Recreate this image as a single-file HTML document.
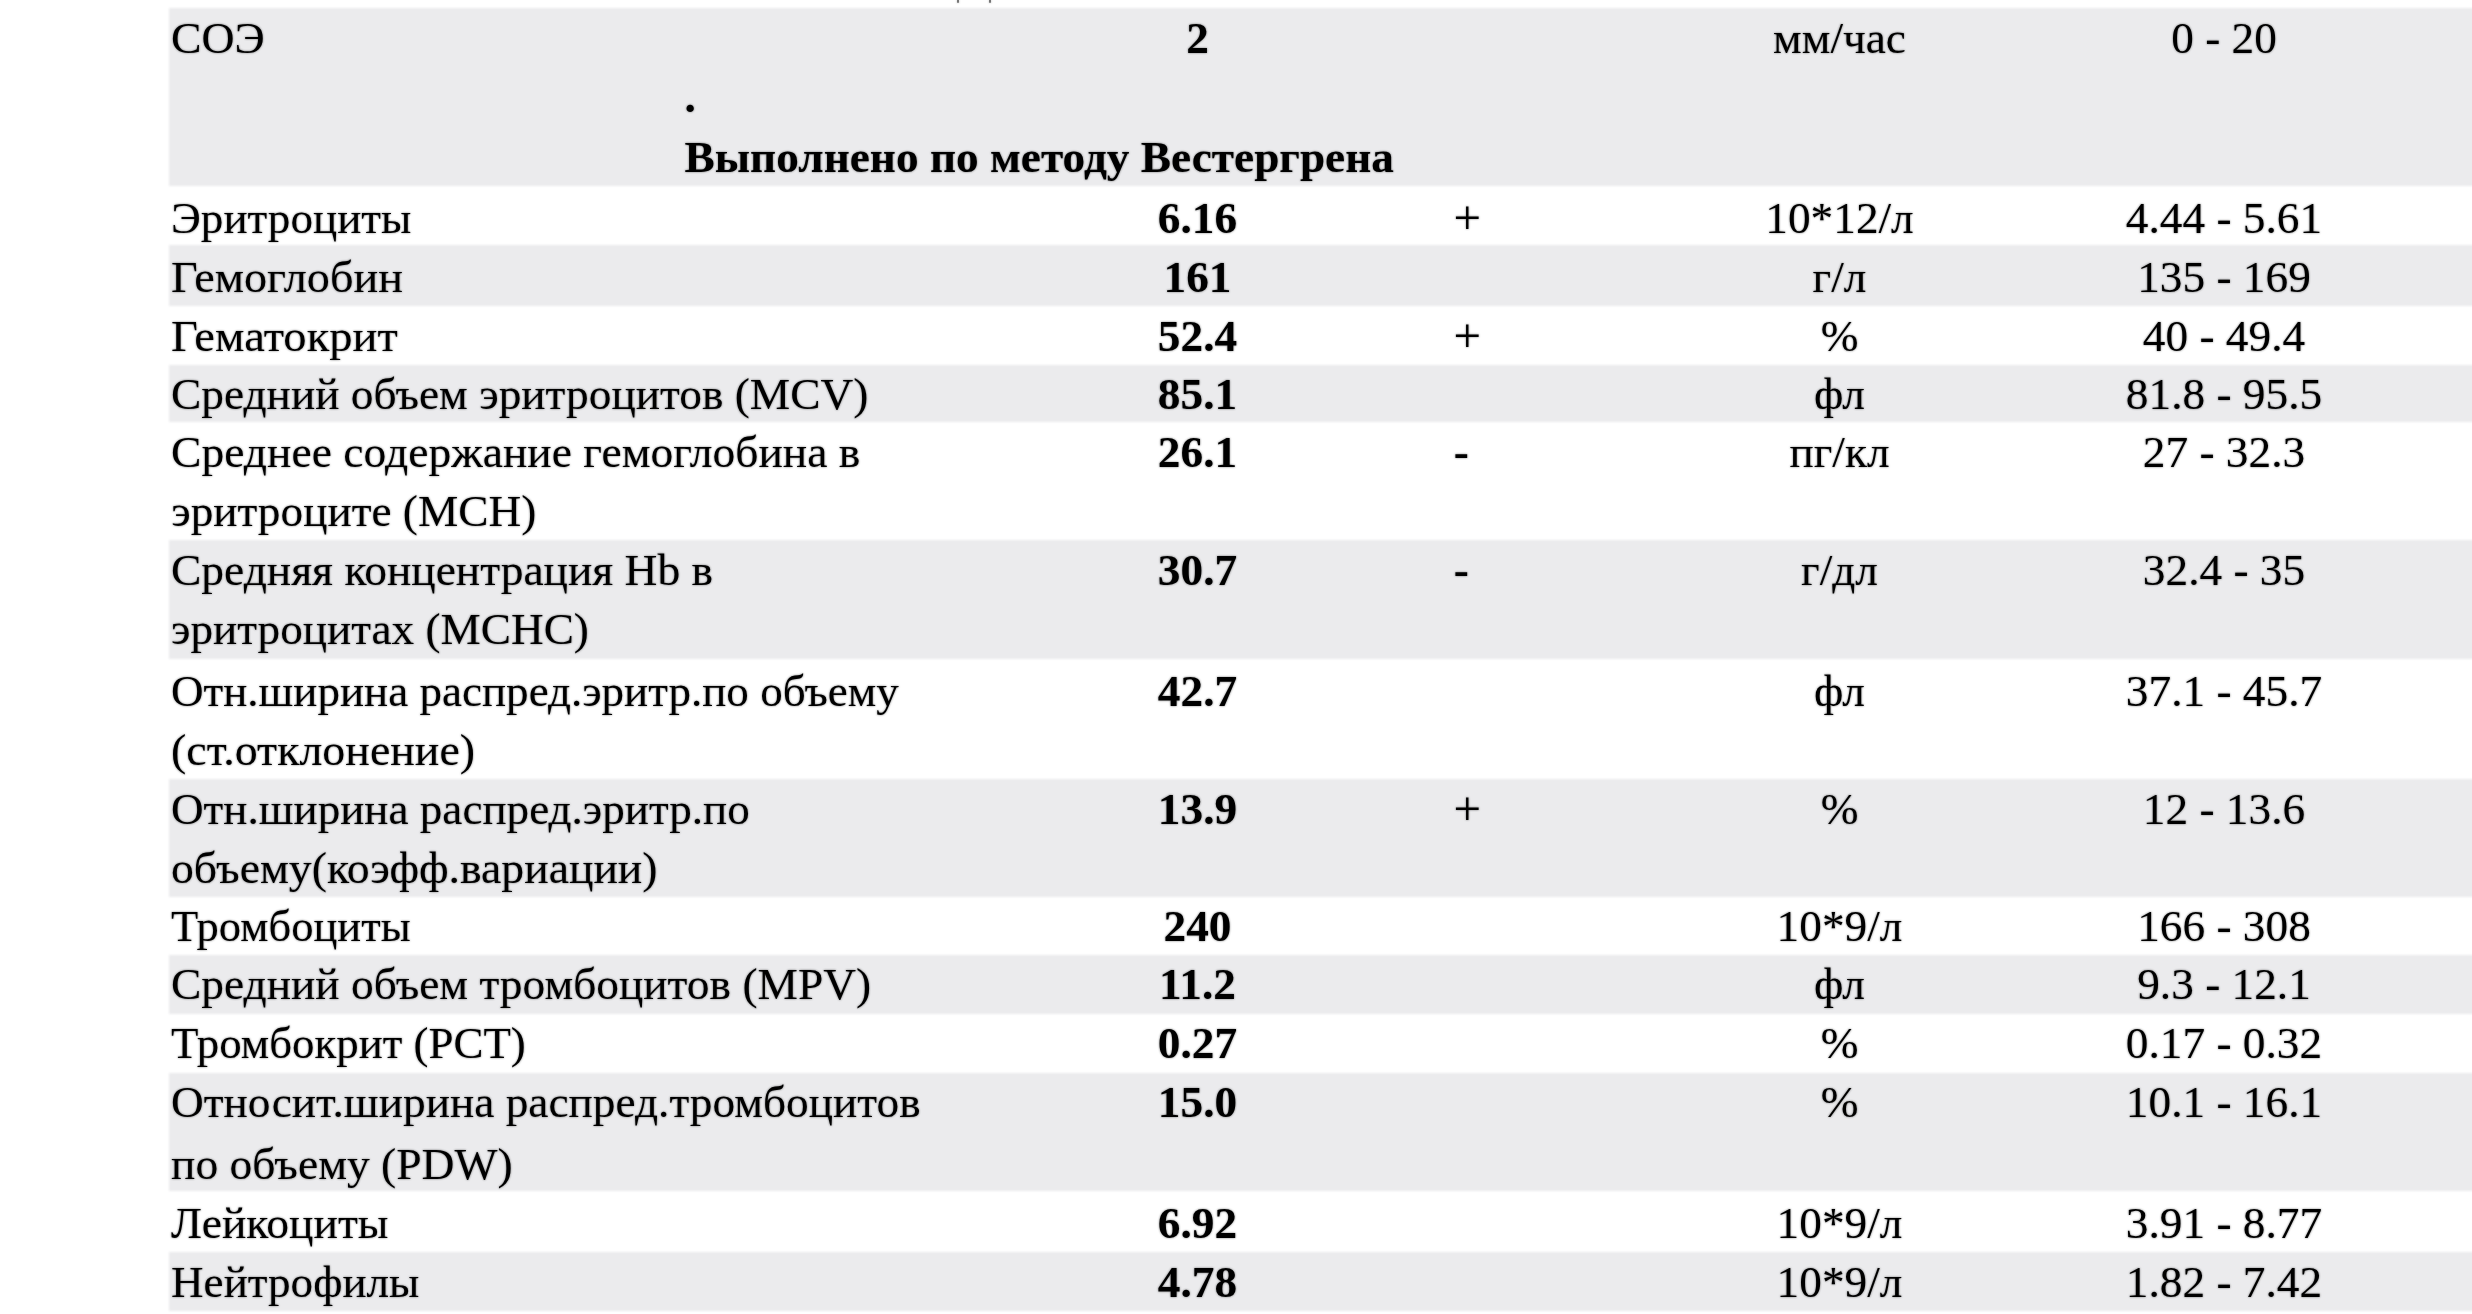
<!DOCTYPE html><html><head><meta charset="utf-8"><style>
html,body{margin:0;padding:0;background:#fff;}
body{width:2472px;height:1314px;overflow:hidden;position:relative;font-family:"Liberation Serif",serif;font-size:45.3px;color:#000;}
.g{position:absolute;left:168.5px;right:-20px;background:#ebebed;}
.t{position:absolute;white-space:nowrap;line-height:60px;height:60px;}
.c{width:400px;text-align:center;}
.b{font-weight:bold;}
.L{position:absolute;left:0;top:0;width:2472px;height:1314px;}
#w1{will-change:transform;}
#wb{filter:blur(0.8px);}
#w2{filter:blur(0.8px);opacity:0.5;}
</style></head><body>
<div class="L" id="wb">
<div class="g" style="top:8px;height:178px"></div>
<div class="g" style="top:245px;height:61px"></div>
<div class="g" style="top:365px;height:57px"></div>
<div class="g" style="top:540px;height:119px"></div>
<div class="g" style="top:779px;height:118px"></div>
<div class="g" style="top:955px;height:58.5px"></div>
<div class="g" style="top:1073px;height:118px"></div>
<div class="g" style="top:1252px;height:59px"></div>
</div>
<div class="L" id="w1">
<div class="t " style="left:171.2px;top:8.3px;transform:scaleX(1.0099);transform-origin:0 0">СОЭ</div>
<div class="t c b" style="left:997.5px;top:8.3px">2</div>
<div class="t c " style="left:1639.5px;top:8.3px">мм/час</div>
<div class="t c " style="left:2024.0px;top:8.3px">0 - 20</div>
<div class="t " style="left:171.2px;top:187.8px;transform:scaleX(0.9967);transform-origin:0 0">Эритроциты</div>
<div class="t c b" style="left:997.5px;top:187.8px">6.16</div>
<div class="t " style="left:1453.5px;top:188.4px"><span style="font-size:48.8px">+</span></div>
<div class="t c " style="left:1639.5px;top:187.8px">10*12/л</div>
<div class="t c " style="left:2024.0px;top:187.8px">4.44 - 5.61</div>
<div class="t " style="left:171.2px;top:246.7px;transform:scaleX(1.0207);transform-origin:0 0">Гемоглобин</div>
<div class="t c b" style="left:997.5px;top:246.7px">161</div>
<div class="t c " style="left:1639.5px;top:246.7px">г/л</div>
<div class="t c " style="left:2024.0px;top:246.7px">135 - 169</div>
<div class="t " style="left:171.2px;top:305.8px;transform:scaleX(1.0278);transform-origin:0 0">Гематокрит</div>
<div class="t c b" style="left:997.5px;top:305.8px">52.4</div>
<div class="t " style="left:1453.5px;top:306.4px"><span style="font-size:48.8px">+</span></div>
<div class="t c " style="left:1639.5px;top:305.8px">%</div>
<div class="t c " style="left:2024.0px;top:305.8px">40 - 49.4</div>
<div class="t " style="left:171.2px;top:363.8px;transform:scaleX(1.0020);transform-origin:0 0">Средний объем эритроцитов (MCV)</div>
<div class="t c b" style="left:997.5px;top:363.8px">85.1</div>
<div class="t c " style="left:1639.5px;top:363.8px">фл</div>
<div class="t c " style="left:2024.0px;top:363.8px">81.8 - 95.5</div>
<div class="t " style="left:171.2px;top:422.4px;transform:scaleX(1.0063);transform-origin:0 0">Среднее содержание гемоглобина в</div>
<div class="t " style="left:171.2px;top:480.9px">эритроците (MCH)</div>
<div class="t c b" style="left:997.5px;top:422.4px">26.1</div>
<div class="t b" style="left:1453.8px;top:422.4px">-</div>
<div class="t c " style="left:1639.5px;top:422.4px">пг/кл</div>
<div class="t c " style="left:2024.0px;top:422.4px">27 - 32.3</div>
<div class="t " style="left:171.2px;top:540.3px;transform:scaleX(1.0045);transform-origin:0 0">Средняя концентрация Hb в</div>
<div class="t " style="left:171.2px;top:598.6px;transform:scaleX(0.9986);transform-origin:0 0">эритроцитах (MCHC)</div>
<div class="t c b" style="left:997.5px;top:540.3px">30.7</div>
<div class="t b" style="left:1453.8px;top:540.3px">-</div>
<div class="t c " style="left:1639.5px;top:540.3px">г/дл</div>
<div class="t c " style="left:2024.0px;top:540.3px">32.4 - 35</div>
<div class="t " style="left:171.2px;top:661.2px;transform:scaleX(0.9948);transform-origin:0 0">Отн.ширина распред.эритр.по объему</div>
<div class="t " style="left:171.2px;top:720.1px;transform:scaleX(1.0134);transform-origin:0 0">(ст.отклонение)</div>
<div class="t c b" style="left:997.5px;top:661.2px">42.7</div>
<div class="t c " style="left:1639.5px;top:661.2px">фл</div>
<div class="t c " style="left:2024.0px;top:661.2px">37.1 - 45.7</div>
<div class="t " style="left:171.2px;top:778.8px;transform:scaleX(0.9962);transform-origin:0 0">Отн.ширина распред.эритр.по</div>
<div class="t " style="left:171.2px;top:837.6px;transform:scaleX(1.0094);transform-origin:0 0">объему(коэфф.вариации)</div>
<div class="t c b" style="left:997.5px;top:778.8px">13.9</div>
<div class="t " style="left:1453.5px;top:779.4px"><span style="font-size:48.8px">+</span></div>
<div class="t c " style="left:1639.5px;top:778.8px">%</div>
<div class="t c " style="left:2024.0px;top:778.8px">12 - 13.6</div>
<div class="t " style="left:171.2px;top:896.3px;transform:scaleX(0.9843);transform-origin:0 0">Тромбоциты</div>
<div class="t c b" style="left:997.5px;top:896.3px">240</div>
<div class="t c " style="left:1639.5px;top:896.3px">10*9/л</div>
<div class="t c " style="left:2024.0px;top:896.3px">166 - 308</div>
<div class="t " style="left:171.2px;top:954.2px;transform:scaleX(1.0029);transform-origin:0 0">Средний объем тромбоцитов (MPV)</div>
<div class="t c b" style="left:997.5px;top:954.2px">11.2</div>
<div class="t c " style="left:1639.5px;top:954.2px">фл</div>
<div class="t c " style="left:2024.0px;top:954.2px">9.3 - 12.1</div>
<div class="t " style="left:171.2px;top:1013.3px;transform:scaleX(0.9910);transform-origin:0 0">Тромбокрит (PCT)</div>
<div class="t c b" style="left:997.5px;top:1013.3px">0.27</div>
<div class="t c " style="left:1639.5px;top:1013.3px">%</div>
<div class="t c " style="left:2024.0px;top:1013.3px">0.17 - 0.32</div>
<div class="t " style="left:171.2px;top:1071.9px;transform:scaleX(1.0011);transform-origin:0 0">Относит.ширина распред.тромбоцитов</div>
<div class="t " style="left:171.2px;top:1133.7px;transform:scaleX(1.0056);transform-origin:0 0">по объему (PDW)</div>
<div class="t c b" style="left:997.5px;top:1071.9px">15.0</div>
<div class="t c " style="left:1639.5px;top:1071.9px">%</div>
<div class="t c " style="left:2024.0px;top:1071.9px">10.1 - 16.1</div>
<div class="t " style="left:171.2px;top:1192.6px;transform:scaleX(1.0079);transform-origin:0 0">Лейкоциты</div>
<div class="t c b" style="left:997.5px;top:1192.6px">6.92</div>
<div class="t c " style="left:1639.5px;top:1192.6px">10*9/л</div>
<div class="t c " style="left:2024.0px;top:1192.6px">3.91 - 8.77</div>
<div class="t " style="left:171.2px;top:1251.5px;transform:scaleX(0.9964);transform-origin:0 0">Нейтрофилы</div>
<div class="t c b" style="left:997.5px;top:1251.5px">4.78</div>
<div class="t c " style="left:1639.5px;top:1251.5px">10*9/л</div>
<div class="t c " style="left:2024.0px;top:1251.5px">1.82 - 7.42</div>
<div class="t b" style="left:684.5px;top:67.3px">.</div>
<div class="t b" style="left:684.5px;top:126.5px">Выполнено по методу Вестергрена</div>
<div style="position:absolute;left:957px;top:0;width:2.4px;height:2.6px;background:#777;border-radius:0 0 50% 50%"></div>
<div style="position:absolute;left:988.8px;top:0;width:2.4px;height:2.6px;background:#777;border-radius:0 0 50% 50%"></div>
</div>
<div class="L" id="w2">
<div class="t " style="left:171.2px;top:8.3px;transform:scaleX(1.0099);transform-origin:0 0">СОЭ</div>
<div class="t c b" style="left:997.5px;top:8.3px">2</div>
<div class="t c " style="left:1639.5px;top:8.3px">мм/час</div>
<div class="t c " style="left:2024.0px;top:8.3px">0 - 20</div>
<div class="t " style="left:171.2px;top:187.8px;transform:scaleX(0.9967);transform-origin:0 0">Эритроциты</div>
<div class="t c b" style="left:997.5px;top:187.8px">6.16</div>
<div class="t " style="left:1453.5px;top:188.4px"><span style="font-size:48.8px">+</span></div>
<div class="t c " style="left:1639.5px;top:187.8px">10*12/л</div>
<div class="t c " style="left:2024.0px;top:187.8px">4.44 - 5.61</div>
<div class="t " style="left:171.2px;top:246.7px;transform:scaleX(1.0207);transform-origin:0 0">Гемоглобин</div>
<div class="t c b" style="left:997.5px;top:246.7px">161</div>
<div class="t c " style="left:1639.5px;top:246.7px">г/л</div>
<div class="t c " style="left:2024.0px;top:246.7px">135 - 169</div>
<div class="t " style="left:171.2px;top:305.8px;transform:scaleX(1.0278);transform-origin:0 0">Гематокрит</div>
<div class="t c b" style="left:997.5px;top:305.8px">52.4</div>
<div class="t " style="left:1453.5px;top:306.4px"><span style="font-size:48.8px">+</span></div>
<div class="t c " style="left:1639.5px;top:305.8px">%</div>
<div class="t c " style="left:2024.0px;top:305.8px">40 - 49.4</div>
<div class="t " style="left:171.2px;top:363.8px;transform:scaleX(1.0020);transform-origin:0 0">Средний объем эритроцитов (MCV)</div>
<div class="t c b" style="left:997.5px;top:363.8px">85.1</div>
<div class="t c " style="left:1639.5px;top:363.8px">фл</div>
<div class="t c " style="left:2024.0px;top:363.8px">81.8 - 95.5</div>
<div class="t " style="left:171.2px;top:422.4px;transform:scaleX(1.0063);transform-origin:0 0">Среднее содержание гемоглобина в</div>
<div class="t " style="left:171.2px;top:480.9px">эритроците (MCH)</div>
<div class="t c b" style="left:997.5px;top:422.4px">26.1</div>
<div class="t b" style="left:1453.8px;top:422.4px">-</div>
<div class="t c " style="left:1639.5px;top:422.4px">пг/кл</div>
<div class="t c " style="left:2024.0px;top:422.4px">27 - 32.3</div>
<div class="t " style="left:171.2px;top:540.3px;transform:scaleX(1.0045);transform-origin:0 0">Средняя концентрация Hb в</div>
<div class="t " style="left:171.2px;top:598.6px;transform:scaleX(0.9986);transform-origin:0 0">эритроцитах (MCHC)</div>
<div class="t c b" style="left:997.5px;top:540.3px">30.7</div>
<div class="t b" style="left:1453.8px;top:540.3px">-</div>
<div class="t c " style="left:1639.5px;top:540.3px">г/дл</div>
<div class="t c " style="left:2024.0px;top:540.3px">32.4 - 35</div>
<div class="t " style="left:171.2px;top:661.2px;transform:scaleX(0.9948);transform-origin:0 0">Отн.ширина распред.эритр.по объему</div>
<div class="t " style="left:171.2px;top:720.1px;transform:scaleX(1.0134);transform-origin:0 0">(ст.отклонение)</div>
<div class="t c b" style="left:997.5px;top:661.2px">42.7</div>
<div class="t c " style="left:1639.5px;top:661.2px">фл</div>
<div class="t c " style="left:2024.0px;top:661.2px">37.1 - 45.7</div>
<div class="t " style="left:171.2px;top:778.8px;transform:scaleX(0.9962);transform-origin:0 0">Отн.ширина распред.эритр.по</div>
<div class="t " style="left:171.2px;top:837.6px;transform:scaleX(1.0094);transform-origin:0 0">объему(коэфф.вариации)</div>
<div class="t c b" style="left:997.5px;top:778.8px">13.9</div>
<div class="t " style="left:1453.5px;top:779.4px"><span style="font-size:48.8px">+</span></div>
<div class="t c " style="left:1639.5px;top:778.8px">%</div>
<div class="t c " style="left:2024.0px;top:778.8px">12 - 13.6</div>
<div class="t " style="left:171.2px;top:896.3px;transform:scaleX(0.9843);transform-origin:0 0">Тромбоциты</div>
<div class="t c b" style="left:997.5px;top:896.3px">240</div>
<div class="t c " style="left:1639.5px;top:896.3px">10*9/л</div>
<div class="t c " style="left:2024.0px;top:896.3px">166 - 308</div>
<div class="t " style="left:171.2px;top:954.2px;transform:scaleX(1.0029);transform-origin:0 0">Средний объем тромбоцитов (MPV)</div>
<div class="t c b" style="left:997.5px;top:954.2px">11.2</div>
<div class="t c " style="left:1639.5px;top:954.2px">фл</div>
<div class="t c " style="left:2024.0px;top:954.2px">9.3 - 12.1</div>
<div class="t " style="left:171.2px;top:1013.3px;transform:scaleX(0.9910);transform-origin:0 0">Тромбокрит (PCT)</div>
<div class="t c b" style="left:997.5px;top:1013.3px">0.27</div>
<div class="t c " style="left:1639.5px;top:1013.3px">%</div>
<div class="t c " style="left:2024.0px;top:1013.3px">0.17 - 0.32</div>
<div class="t " style="left:171.2px;top:1071.9px;transform:scaleX(1.0011);transform-origin:0 0">Относит.ширина распред.тромбоцитов</div>
<div class="t " style="left:171.2px;top:1133.7px;transform:scaleX(1.0056);transform-origin:0 0">по объему (PDW)</div>
<div class="t c b" style="left:997.5px;top:1071.9px">15.0</div>
<div class="t c " style="left:1639.5px;top:1071.9px">%</div>
<div class="t c " style="left:2024.0px;top:1071.9px">10.1 - 16.1</div>
<div class="t " style="left:171.2px;top:1192.6px;transform:scaleX(1.0079);transform-origin:0 0">Лейкоциты</div>
<div class="t c b" style="left:997.5px;top:1192.6px">6.92</div>
<div class="t c " style="left:1639.5px;top:1192.6px">10*9/л</div>
<div class="t c " style="left:2024.0px;top:1192.6px">3.91 - 8.77</div>
<div class="t " style="left:171.2px;top:1251.5px;transform:scaleX(0.9964);transform-origin:0 0">Нейтрофилы</div>
<div class="t c b" style="left:997.5px;top:1251.5px">4.78</div>
<div class="t c " style="left:1639.5px;top:1251.5px">10*9/л</div>
<div class="t c " style="left:2024.0px;top:1251.5px">1.82 - 7.42</div>
<div class="t b" style="left:684.5px;top:67.3px">.</div>
<div class="t b" style="left:684.5px;top:126.5px">Выполнено по методу Вестергрена</div>
<div style="position:absolute;left:957px;top:0;width:2.4px;height:2.6px;background:#777;border-radius:0 0 50% 50%"></div>
<div style="position:absolute;left:988.8px;top:0;width:2.4px;height:2.6px;background:#777;border-radius:0 0 50% 50%"></div>
</div>
</body></html>
